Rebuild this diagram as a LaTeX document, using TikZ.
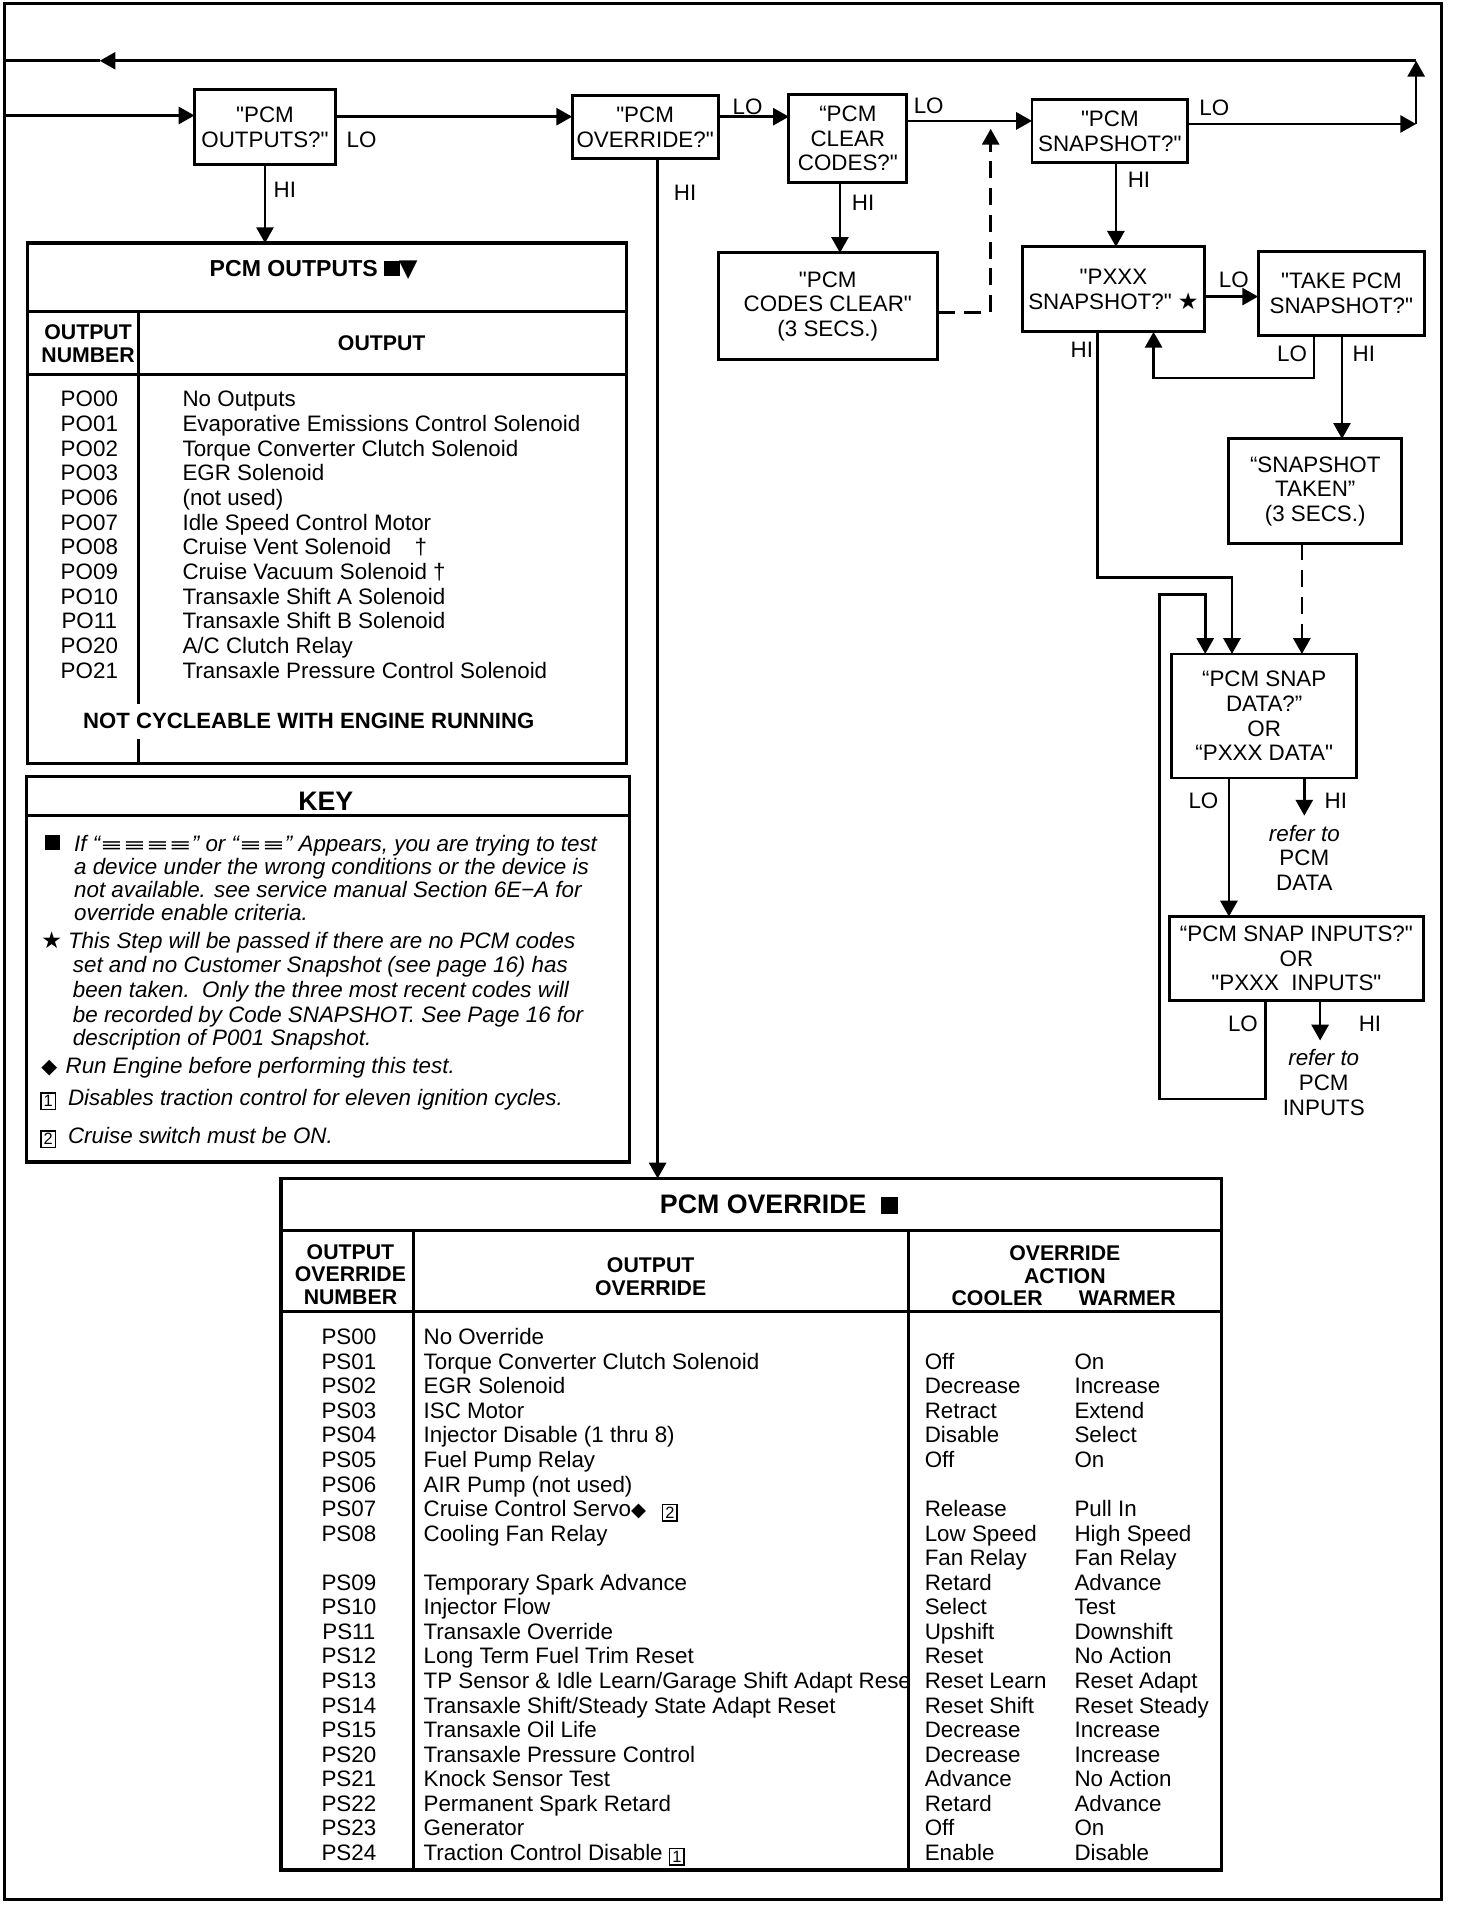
\documentclass[tikz,border=0pt]{standalone}
\usepackage{fontspec}
\usepackage{graphicx}
\setmainfont{Liberation Sans}[Ligatures=TeXOff]
\newfontfamily\symf{DejaVu Sans}[Ligatures=TeXOff]
\usetikzlibrary{arrows.meta,calc}
\newcommand\fnt{\fontsize{18.4}{20.2}\selectfont}
\newcommand\fhd{\fontsize{17.5}{19}\selectfont\bfseries}
\newcommand\bxn[1]{{\setlength{\fboxsep}{1.6pt}\setlength{\fboxrule}{1.2pt}\raisebox{-1.5pt}{\fbox{\fontsize{13.5}{13.5}\selectfont\upshape #1}}}}
\newcommand\sq[1]{\rule{#1}{#1}}
\newcommand\eqv[1]{{\symf\upshape\fontsize{15}{15}\selectfont\scalebox{1.5}[1]{#1}}}
\newcommand\orow[3]{\node[anchor=base] (oc#1) at (73.5,{334.65+20.29*#1}) {#2};\node[anchor=base west] (od#1) at (150.2,{334.65+20.29*#1}) {#3};}
\newcommand\vrowa[3]{\node[anchor=base] (vc#1) at (287,{1106.25+20.2*#1}) {#2};\node[anchor=base west] (vd#1) at (348.5,{1106.25+20.2*#1}) {#3};}
\newcommand\vrow[5]{\vrowa{#1}{#2}{#3}\node[anchor=base west] (vk#1) at (760.8,{1106.25+20.2*#1}) {#4};\node[anchor=base west] (vw#1) at (884,{1106.25+20.2*#1}) {#5};}
\begin{document}
\begin{tikzpicture}[x=1pt,y=-1pt,
  every node/.style={inner sep=0pt,outer sep=0pt,font=\fnt},
  fbx/.style={draw,line width=2.4pt,align=center},
  tabbox/.style={draw,line width=2.8pt},
  tline/.style={line width=2.6pt},
  dline/.style={line width=2.2pt},
  arr/.style={line width=2.2pt,-{Triangle[length=13pt,width=14pt]}},
  plain/.style={line width=2.2pt},
  dsh/.style={line width=2.2pt,dash pattern=on 14pt off 8pt,-{Triangle[length=13pt,width=14pt]}},
  hd/.style={font=\fhd,align=center},
  kt/.style={anchor=base west,font=\fnt\itshape}]
\useasboundingbox (0,0) rectangle (1198,1568);
% outer frame
\draw[line width=2.4pt] (4,3) rectangle (1186,1563);

% ---------- flow boxes ----------
\node[fbx,minimum width=116pt,minimum height=61pt] (outq) at (218,104.5) {"PCM\\OUTPUTS?"};
\node[fbx,minimum width=120pt,minimum height=52pt] (ovq) at (530.7,104.75) {"PCM\\OVERRIDE?"};
\node[fbx,minimum width=97pt,minimum height=72pt] (clrq) at (697.5,114) {“PCM\\CLEAR\\CODES?"};
\node[fbx,minimum width=180.5pt,minimum height=88pt] (clrd) at (681,252) {"PCM\\CODES CLEAR"\\(3 SECS.)};
\node[fbx,minimum width=128pt,minimum height=52pt] (snapq) at (913,108) {"PCM\\SNAPSHOT?"};
\node[fbx,minimum width=150pt,minimum height=70pt] (pxq) at (916,238) {"PXXX\\SNAPSHOT?" {\symf\fontsize{19}{16}\selectfont ★}};
\node[fbx,minimum width=137pt,minimum height=69pt] (takeq) at (1103.5,241.5) {"TAKE PCM\\SNAPSHOT?"};
\node[fbx,minimum width=142pt,minimum height=86pt] (taken) at (1082,404) {“SNAPSHOT\\TAKEN”\\(3 SECS.)};
\node[fbx,minimum width=152pt,minimum height=102pt] (sdata) at (1040,589) {“PCM SNAP\\DATA?”\\OR\\“PXXX DATA"};
\node[fbx,minimum width=209pt,minimum height=69pt] (sinp) at (1066.5,788.5) {“PCM SNAP INPUTS?"\\OR\\"PXXX\ \ INPUTS"};

% ---------- tables ----------
\node[tabbox,minimum width=493pt,minimum height=428pt] (outtab) at (269,414) {};
\node[tabbox,minimum width=496pt,minimum height=317pt] (keybox) at (270,797.5) {};
\node[tabbox,minimum width=774pt,minimum height=569pt] (ovtab) at (618,1254) {};

% ---------- connectors ----------
\coordinate (lb) at (4,95);
\draw[arr] (lb) -- (outq.west |- lb);
\coordinate (r96) at (0,96);
\draw[arr] (outq.east |- r96) -- (ovq.west |- r96);
\draw[arr] (ovq.east |- r96) -- (clrq.west |- r96);
\coordinate (r99) at (0,99.5);
\draw[arr] (clrq.east |- r99) -- (snapq.west |- r99);
\coordinate (rc) at (1165,102);
\draw[arr] (snapq.east |- rc) -- (rc);
\coordinate (rt) at (1165,50);
\draw[arr] (rc) -- (rt);
\coordinate (la) at (82,50);
\coordinate (lt) at (4,50);
\draw[arr] (rt) -- (la);
\draw[plain] (la) -- (lt);

\draw[arr] (outq.south) -- (outq.south |- outtab.north);
\coordinate (c541) at (541,0);
\draw[arr] (ovq.south -| c541) -- (ovtab.north -| c541);
\coordinate (c691) at (691,0);
\draw[arr] (clrq.south -| c691) -- (clrd.north -| c691);
\coordinate (r257) at (0,257);
\coordinate (d1) at (815,257);
\coordinate (d2) at (815,106);
\draw[dsh] (clrd.east |- r257) -- (d1) -- (d2);
\coordinate (c918) at (918,0);
\draw[arr] (snapq.south -| c918) -- (pxq.north -| c918);
\coordinate (r244) at (0,244);
\draw[arr] (pxq.east |- r244) -- (takeq.west |- r244);
\coordinate (h1) at (903,475);
\coordinate (h2) at (1013.5,475);
\draw[arr] (pxq.south -| h1) -- (h1) -- (h2) -- (sdata.north -| h2);
\coordinate (t1) at (1081,311);
\coordinate (t2) at (949,311);
\draw[arr] (takeq.south -| t1) -- (t1) -- (t2) -- (pxq.south -| t2);
\coordinate (c1104) at (1104,0);
\draw[arr] (takeq.south -| c1104) -- (taken.north -| c1104);
\coordinate (c1071) at (1071,0);
\draw[dsh] (taken.south -| c1071) -- (sdata.north -| c1071);
\coordinate (c1011) at (1011,0);
\draw[arr] (sdata.south -| c1011) -- (sinp.north -| c1011);
\coordinate (e1) at (1073,671);
\draw[arr] (sdata.south -| e1) -- (e1);
\coordinate (s1) at (1041,904);
\coordinate (s2) at (954,904);
\coordinate (s3) at (954,489);
\coordinate (s4) at (991.5,489);
\draw[arr] (sinp.south -| s1) -- (s1) -- (s2) -- (s3) -- (s4) -- (sdata.north -| s4);
\coordinate (e2) at (1086,856);
\draw[arr] (sinp.south -| e2) -- (e2);

% ---------- connector labels ----------
\node (l1) at (297.5,115) {LO};
\node (l2) at (234.4,155.8) {HI};
\node (l3) at (563.6,158.5) {HI};
\node (l4) at (615,88) {LO};
\node (l5) at (764,87) {LO};
\node (l6) at (710,167) {HI};
\node (l7) at (999,89) {LO};
\node (l8) at (937,148) {HI};
\node (l9) at (1015,230) {LO};
\node (l10) at (890,288) {HI};
\node (l11) at (1063,291) {LO};
\node (l12) at (1122,291) {HI};
\node (l13) at (990,658.5) {LO};
\node (l14) at (1099,658.5) {HI};
\node[align=center] (ref1) at (1073,705.5) {{\itshape refer to}\\PCM\\DATA};
\node (l15) at (1022.5,842) {LO};
\node (l16) at (1127,842) {HI};
\node[align=center] (ref2) at (1089,890.5) {{\itshape refer to}\\PCM\\INPUTS};

% ---------- PCM OUTPUTS table ----------
\draw[tline] (22.5,256) -- (515.5,256);
\draw[tline] (22.5,308) -- (515.5,308);
\draw[dline] (113.7,256) -- (113.7,579);
\draw[dline] (113.7,608) -- (113.7,628);
\node[font=\fontsize{19}{20}\selectfont\bfseries] (otitle) at (258,222) {PCM OUTPUTS \sq{13pt}{\symf\fontsize{20}{20}\selectfont\kern-1pt▼}};
\node[hd] (oh1) at (72.5,282.5) {OUTPUT\\NUMBER};
\node[hd] (oh2) at (314,282) {OUTPUT};
\orow{0}{PO00}{No Outputs}
\orow{1}{PO01}{Evaporative Emissions Control Solenoid}
\orow{2}{PO02}{Torque Converter Clutch Solenoid}
\orow{3}{PO03}{EGR Solenoid}
\orow{4}{PO06}{(not used)}
\orow{5}{PO07}{Idle Speed Control Motor}
\orow{6}{PO08}{Cruise Vent Solenoid\hspace{19pt}†}
\orow{7}{PO09}{Cruise Vacuum Solenoid †}
\orow{8}{PO10}{Transaxle Shift A Solenoid}
\orow{9}{PO11}{Transaxle Shift B Solenoid}
\orow{10}{PO20}{A/C Clutch Relay}
\orow{11}{PO21}{Transaxle Pressure Control Solenoid}
\node[font=\fontsize{18.2}{20}\selectfont\bfseries] (notc) at (254,593.3) {NOT CYCLEABLE WITH ENGINE RUNNING};

% ---------- KEY ----------
\draw[tline] (22,671) -- (518,671);
\node[font=\fontsize{22}{24}\selectfont\bfseries] (ktitle) at (268,659.5) {KEY};
\node[anchor=base west] (ks1) at (37,699.5) {\sq{12.5pt}};
\node[kt] (k1) at (61,700.1) {If “\eqv{≡≡≡≡}” or “\eqv{≡≡}” Appears, you are trying to test};
\node[kt] (k2) at (61,719.3) {a device under the wrong conditions or the device is};
\node[kt] (k3) at (61,738.4) {not available. see service manual Section 6E−A for};
\node[kt] (k4) at (61,757.5) {override enable criteria.};
\node[anchor=base west] (ks2) at (34,780.7) {\symf\fontsize{19}{19}\selectfont ★};
\node[kt] (k5) at (56,780.7) {This Step will be passed if there are no PCM codes};
\node[kt] (k6) at (60,800.3) {set and no Customer Snapshot (see page 16) has};
\node[kt] (k7) at (60,820.3) {been taken.\ \ Only the three most recent codes will};
\node[kt] (k8) at (60,840.8) {be recorded by Code SNAPSHOT. See Page 16 for};
\node[kt] (k9) at (60,860) {description of P001 Snapshot.};
\node[anchor=base west] (ks3) at (34,883.2) {\symf\fontsize{17}{17}\selectfont ◆};
\node[kt] (k10) at (54,883.2) {Run Engine before performing this test.};
\node[anchor=base west] (ks4) at (33,909.1) {\bxn{1}};
\node[kt] (k11) at (56,909.1) {Disables traction control for eleven ignition cycles.};
\node[anchor=base west] (ks5) at (33,940.4) {\bxn{2}};
\node[kt] (k12) at (56,940.4) {Cruise switch must be ON.};

% ---------- PCM OVERRIDE table ----------
\draw[tline] (231,1012) -- (1005,1012);
\draw[tline] (231,1079.2) -- (1005,1079.2);
\draw[dline] (340.3,1012) -- (340.3,1538.6);
\draw[dline] (747.6,1012) -- (747.6,1538.6);
\node[font=\fontsize{22}{24}\selectfont\bfseries] (vtitle) at (641,991) {PCM OVERRIDE \ \sq{14pt}};
\node[hd,font=\fontsize{17.5}{18.5}\selectfont\bfseries] (vh1) at (288.3,1048.4) {OUTPUT\\OVERRIDE\\NUMBER};
\node[hd] (vh2) at (535.3,1050.4) {OUTPUT\\OVERRIDE};
\node[hd,font=\fontsize{17.5}{18.6}\selectfont\bfseries] (vh3) at (876,1040.5) {OVERRIDE\\ACTION};
\node[hd] (vh4) at (820.3,1068.3) {COOLER};
\node[hd] (vh5) at (927.3,1068.3) {WARMER};
\vrowa{0}{PS00}{No Override}
\vrow{1}{PS01}{Torque Converter Clutch Solenoid}{Off}{On}
\vrow{2}{PS02}{EGR Solenoid}{Decrease}{Increase}
\vrow{3}{PS03}{ISC Motor}{Retract}{Extend}
\vrow{4}{PS04}{Injector Disable (1 thru 8)}{Disable}{Select}
\vrow{5}{PS05}{Fuel Pump Relay}{Off}{On}
\vrowa{6}{PS06}{AIR Pump (not used)}
\vrow{7}{PS07}{Cruise Control Servo{\symf\fontsize{16}{16}\selectfont ◆}\hspace{13pt}\bxn{2}}{Release}{Pull In}
\vrow{8}{PS08}{Cooling Fan Relay}{Low Speed}{High Speed}
\node[anchor=base west] (vk9) at (760.8,{1106.25+20.2*9}) {Fan Relay};
\node[anchor=base west] (vw9) at (884,{1106.25+20.2*9}) {Fan Relay};
\vrow{10}{PS09}{Temporary Spark Advance}{Retard}{Advance}
\vrow{11}{PS10}{Injector Flow}{Select}{Test}
\vrow{12}{PS11}{Transaxle Override}{Upshift}{Downshift}
\vrow{13}{PS12}{Long Term Fuel Trim Reset}{Reset}{No Action}
\begin{scope}
\clip (342,1370) rectangle (748.5,1400);
\node[anchor=base west] (vd14) at (348.5,{1106.25+20.2*14}) {TP Sensor \& Idle Learn/Garage Shift Adapt Reset};
\end{scope}
\node[anchor=base] (vc14) at (287,{1106.25+20.2*14}) {PS13};
\node[anchor=base west] (vk14) at (760.8,{1106.25+20.2*14}) {Reset Learn};
\node[anchor=base west] (vw14) at (884,{1106.25+20.2*14}) {Reset Adapt};
\vrow{15}{PS14}{Transaxle Shift/Steady State Adapt Reset}{Reset Shift}{Reset Steady}
\vrow{16}{PS15}{Transaxle Oil Life}{Decrease}{Increase}
\vrow{17}{PS20}{Transaxle Pressure Control}{Decrease}{Increase}
\vrow{18}{PS21}{Knock Sensor Test}{Advance}{No Action}
\vrow{19}{PS22}{Permanent Spark Retard}{Retard}{Advance}
\vrow{20}{PS23}{Generator}{Off}{On}
\vrow{21}{PS24}{Traction Control Disable \bxn{1}}{Enable}{Disable}
\end{tikzpicture}
\end{document}
